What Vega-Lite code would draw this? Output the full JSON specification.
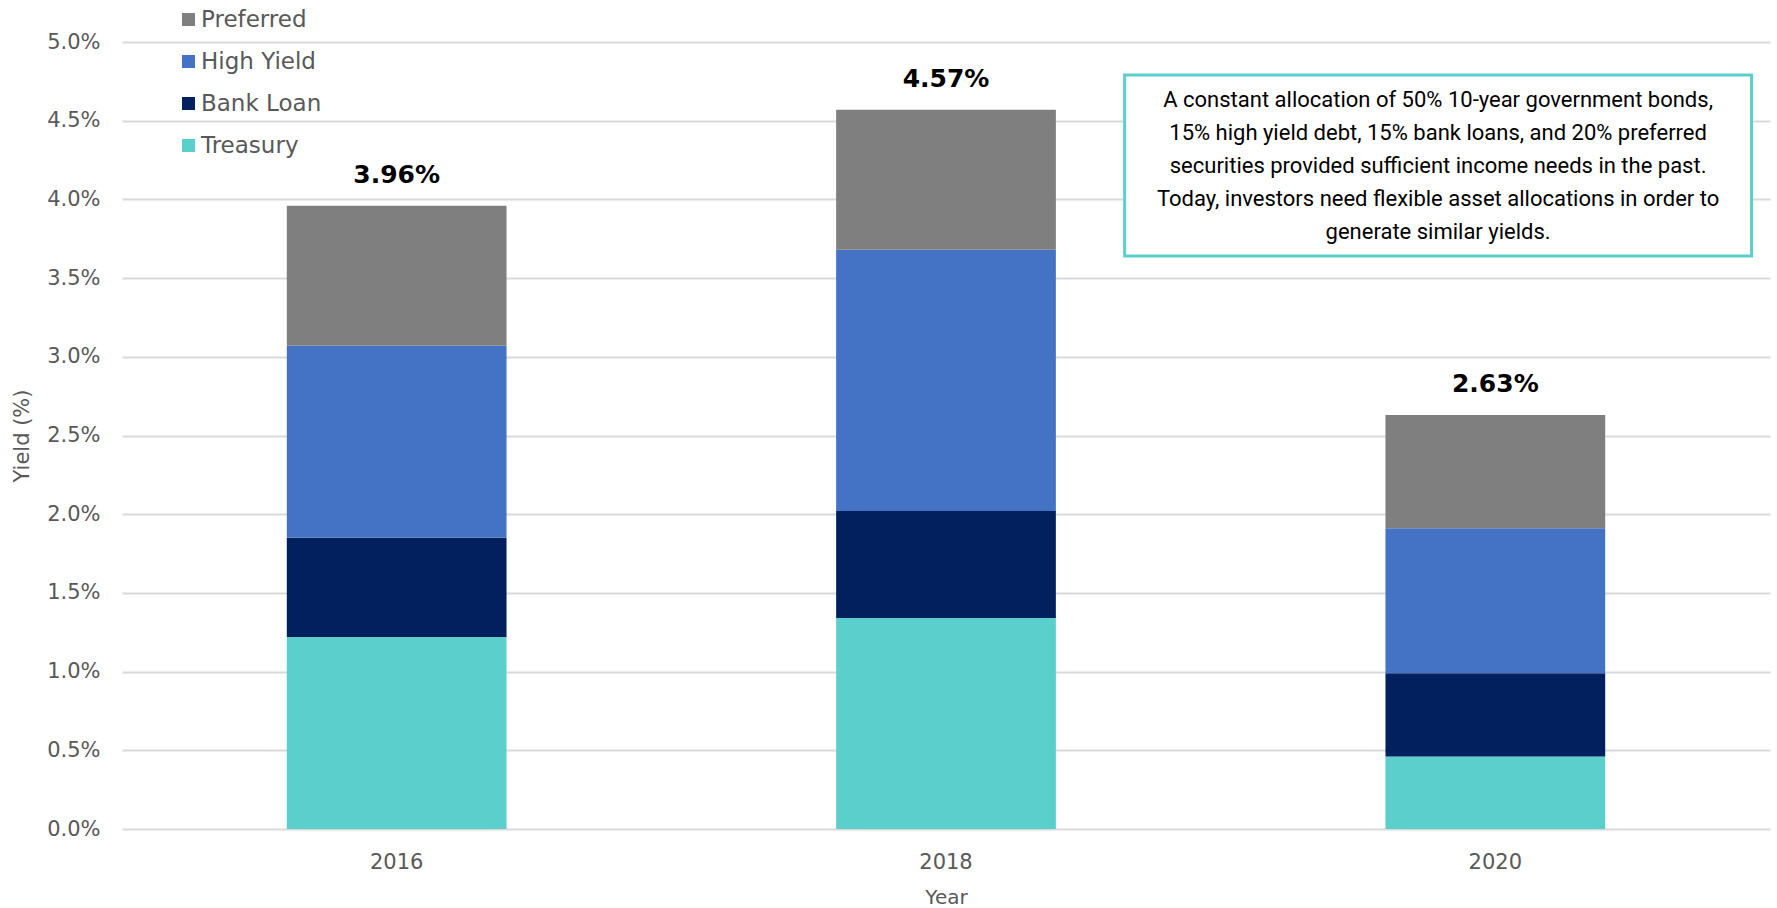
{
  "$schema": "https://vega.github.io/schema/vega-lite/v6.json",
  "width": 1648,
  "height": 787,
  "autosize": {"type": "none"},
  "padding": {"left": 122, "top": 42, "right": 7, "bottom": 79},
  "background": "white",
  "config": {
    "font": "DejaVu Sans",
    "view": {"stroke": null}
  },
  "datasets": {
    "yields": [
      {"year": "2016", "series": "Treasury", "value": 1.22},
      {"year": "2016", "series": "Bank Loan", "value": 0.63},
      {"year": "2016", "series": "High Yield", "value": 1.22},
      {"year": "2016", "series": "Preferred", "value": 0.89},
      {"year": "2018", "series": "Treasury", "value": 1.34},
      {"year": "2018", "series": "Bank Loan", "value": 0.68},
      {"year": "2018", "series": "High Yield", "value": 1.66},
      {"year": "2018", "series": "Preferred", "value": 0.89},
      {"year": "2020", "series": "Treasury", "value": 0.46},
      {"year": "2020", "series": "Bank Loan", "value": 0.53},
      {"year": "2020", "series": "High Yield", "value": 0.92},
      {"year": "2020", "series": "Preferred", "value": 0.72}
    ],
    "totals": [
      {"year": "2016", "total": 3.96, "label": "3.96%"},
      {"year": "2018", "total": 4.57, "label": "4.57%"},
      {"year": "2020", "total": 2.63, "label": "2.63%"}
    ],
    "note": [
      {"text": "A constant allocation of 50% 10-year government bonds,\n15% high yield debt, 15% bank loans, and 20% preferred\nsecurities provided sufficient income needs in the past.\nToday, investors need flexible asset allocations in order to\ngenerate similar yields."}
    ]
  },
  "layer": [
    {
      "layer": [
        {
          "data": {"name": "yields"},
          "transform": [
            {"calculate": "indexof(['Treasury', 'Bank Loan', 'High Yield', 'Preferred'], datum.series)", "as": "stackRank"}
          ],
          "mark": {"type": "bar"},
          "encoding": {
            "x": {
              "field": "year", "type": "ordinal",
              "scale": {"paddingInner": 0.6, "paddingOuter": 0.3},
              "axis": {
                "title": "Year", "labelAngle": 0, "domain": false, "ticks": false,
                "labelFontSize": 21, "labelColor": "#595959", "labelPadding": 22,
                "titleFontSize": 20, "titleColor": "#595959", "titleFontWeight": "normal", "titlePadding": 15
              }
            },
            "y": {
              "field": "value", "type": "quantitative", "stack": "zero",
              "scale": {"domain": [0, 5], "nice": false},
              "axis": {
                "title": "Yield (%)", "values": [0, 0.5, 1, 1.5, 2, 2.5, 3, 3.5, 4, 4.5, 5],
                "format": ".1f", "labelExpr": "datum.label + '%'",
                "domain": false, "ticks": false, "grid": true, "gridColor": "#D9D9D9", "gridWidth": 2,
                "labelFontSize": 21, "labelColor": "#595959", "labelPadding": 22,
                "titleFontSize": 21, "titleColor": "#595959", "titleFontWeight": "normal", "titlePadding": 14
              }
            },
            "color": {
              "field": "series", "type": "nominal",
              "scale": {
                "domain": ["Preferred", "High Yield", "Bank Loan", "Treasury"],
                "range": ["#7F7F7F", "#4472C4", "#03205E", "#5BCFCB"]
              },
              "legend": {
                "orient": "none", "legendX": 55, "legendY": -34, "title": null,
                "symbolType": "square", "symbolSize": 169, "symbolStrokeWidth": 0,
                "labelFontSize": 23, "labelColor": "#595959", "rowPadding": 18,
                "padding": 0, "labelOffset": 1
              }
            },
            "order": {"field": "stackRank", "type": "quantitative", "sort": "ascending"}
          }
        },
        {
          "data": {"name": "totals"},
          "mark": {"type": "text", "fontWeight": "bold", "fontSize": 25, "color": "black", "baseline": "alphabetic", "dy": -23},
          "encoding": {
            "x": {"field": "year", "type": "ordinal"},
            "y": {"field": "total", "type": "quantitative"},
            "text": {"field": "label"}
          }
        }
      ]
    },
    {
      "layer": [
        {
          "data": {"values": [{}]},
          "mark": {"type": "rect", "fill": "white", "stroke": "#5BCFCB", "strokeWidth": 3},
          "encoding": {
            "x": {"datum": 0.6084, "type": "quantitative", "scale": {"domain": [0, 1], "nice": false, "zero": false}, "axis": null},
            "x2": {"datum": 0.9888},
            "y": {"datum": 4.79, "type": "quantitative"},
            "y2": {"datum": 3.64}
          }
        },
        {
          "data": {"name": "note"},
          "mark": {"type": "text", "align": "center", "baseline": "middle", "fontSize": 22, "lineHeight": 33, "lineBreak": "\n", "font": "Roboto", "color": "black"},
          "encoding": {
            "x": {"datum": 0.7986, "type": "quantitative"},
            "y": {"datum": 4.631, "type": "quantitative"},
            "text": {"field": "text"}
          }
        }
      ]
    }
  ],
  "resolve": {"scale": {"x": "independent"}}
}
